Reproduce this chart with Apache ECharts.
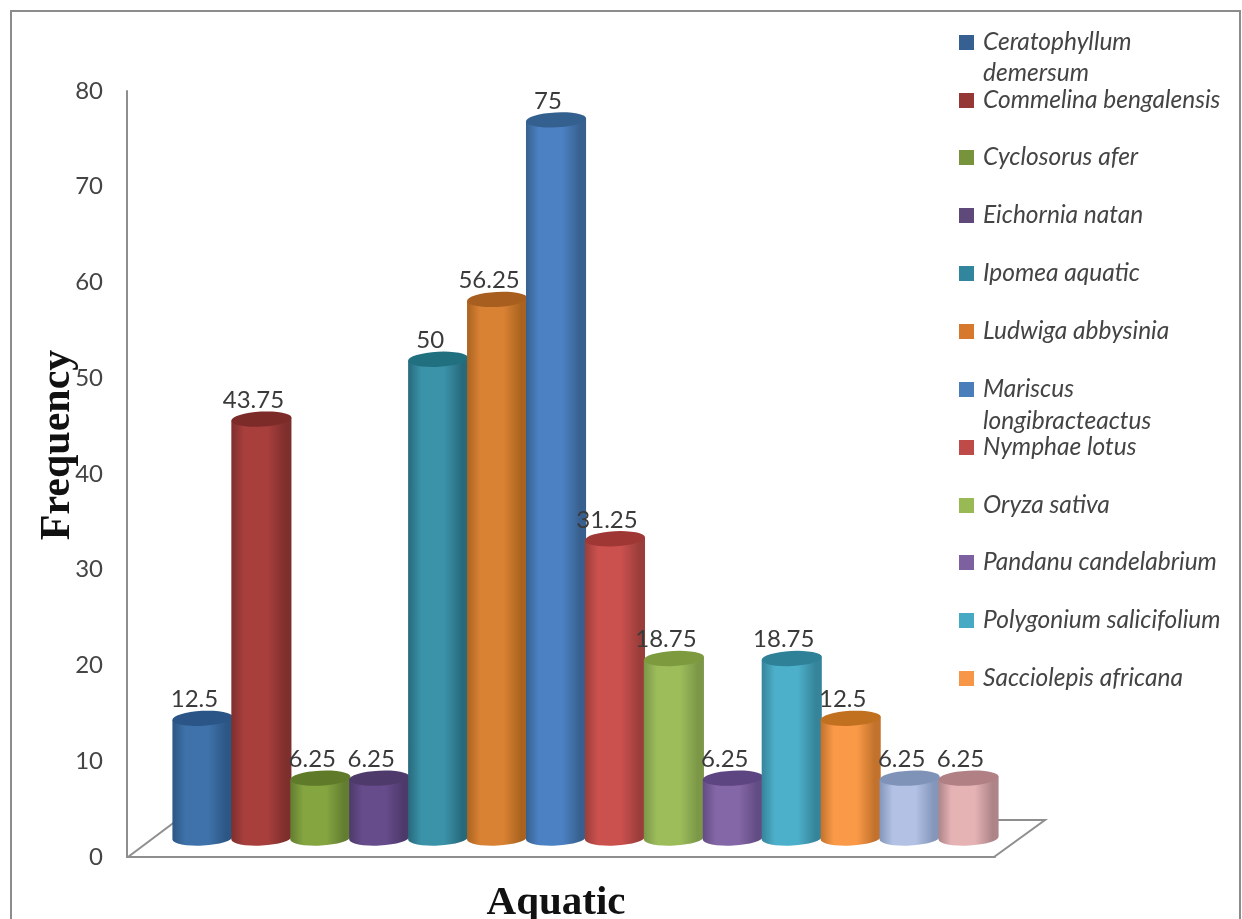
<!DOCTYPE html>
<html><head><meta charset="utf-8">
<style>html,body{margin:0;padding:0;background:#fff;overflow:hidden}#c{width:1242px;height:919px}</style>
<script src="https://cdn.jsdelivr.net/npm/echarts@6/dist/echarts.min.js"></script>
</head><body><div id="c"></div>
<script>
const species = ['Ceratophyllum demersum','Commelina bengalensis','Cyclosorus afer','Eichornia natan','Ipomea aquatic','Ludwiga abbysinia','Mariscus longibracteactus','Nymphae lotus','Oryza sativa','Pandanu candelabrium','Polygonium salicifolium','Sacciolepis africana','Unnamed 13','Unnamed 14'];
const frequency = [12.5,43.75,6.25,6.25,50,56.25,75,31.25,18.75,6.25,18.75,12.5,6.25,6.25];
const legendColors = ['#376092','#953735','#77933c','#5f497a','#31859c','#d7792c','#4a7ebb','#be4b48','#98b954','#7d60a0','#46aac5','#f79646','#b0bfe2','#e3b0b2'];
const midColors = ['#3f72aa','#a83f3d','#84a540','#674c8c','#3b93a9','#da8234','#4c82c4','#cb514e','#9dbd5b','#8467a6','#4db0ca','#fa9a48','#b2c1e4','#e6b3b5'];
const edgeColors = ['#2c5684','#7e2f2d','#637d31','#4d3a6b','#27697c','#a9631f','#38608f','#9b3e3b','#7b9747','#634c84','#35849a','#c2722c','#8496ba','#ad8488'];
const topColors = ['#2a5586','#7d2b29','#5f7a29','#4f3a6c','#21707f','#a85e1f','#34608f','#9f3835','#7d9a3f','#5c4580','#2f8198','#c0701e','#7f93b8','#b08084'];
const yTicks = {min:0,max:80,interval:10};
const legendFirstLine = {'Ceratophyllum demersum':'Ceratophyllum','Mariscus longibracteactus':'Mariscus'};
const legendTop = [42,100,157,215,273,331,389,447,505,562,620,678];

const LABEL_FONT = 'Lato, "Open Sans", sans-serif';

function renderCyl(idx){
  return function(params, api){
    const x = api.value(0), v = api.value(1);
    const top = api.coord([x, v]), base = api.coord([x, 0]);
    const w = api.size([1,0])[0]*1.02, rx = w/2, ry = 7.5, tilt = 3;
    const cx = top[0], l = cx-rx, r = cx+rx, d = 1.6;
    const body = `M${l} ${top[1]+d} L${l} ${base[1]+d} A${rx} ${ry} ${-tilt} 0 0 ${r} ${base[1]-d} L${r} ${top[1]-d} Z`;
    const cap = `M${l} ${top[1]+d} A${rx} ${ry} ${-tilt} 0 1 ${r} ${top[1]-d} A${rx} ${ry} ${-tilt} 0 1 ${l} ${top[1]+d} Z`;
    return {type:'group',children:[
      {type:'path',shape:{pathData:body},style:{fill:new echarts.graphic.LinearGradient(0,0,1,0,[
        {offset:0,color:edgeColors[idx]},{offset:0.22,color:midColors[idx]},{offset:0.6,color:midColors[idx]},{offset:0.9,color:edgeColors[idx]},{offset:1,color:edgeColors[idx]}])}},
      {type:'path',shape:{pathData:cap},style:{fill:topColors[idx]}},
      {type:'text',style:{text:String(v),x:cx-8,y:top[1]-19,align:'center',verticalAlign:'middle',fill:'#3a3a3a',font:'24px '+LABEL_FONT}}
    ]};
  };
}

const series = species.map((n,i)=>({
  type:'custom',name:n,xAxisIndex:1,yAxisIndex:1,clip:false,
  coordinateSystem:'cartesian2d',
  itemStyle:{color:legendColors[i]},
  data:[[species[i],frequency[i]]],
  encode:{x:0,y:1},
  renderItem:renderCyl(i),
  silent:true
}));

const legends = legendTop.map((t,i)=>({
  show:true,data:[species[i]],left:959,top:t-12,orient:'vertical',
  itemWidth:15,itemHeight:15,selectedMode:false,padding:0,
  icon:'rect',
  formatter:n=>legendFirstLine[n]||n,
  textStyle:{fontFamily:LABEL_FONT,fontStyle:'italic',fontSize:24.5,color:'#444',padding:[0,0,0,4],height:24,lineHeight:24}
}));

const chart = echarts.init(document.getElementById('c'),null,{renderer:'canvas'});
const axisGray = '#8e8e8e';
chart.setOption({
  animation:false,
  backgroundColor:'#fff',
  grid:[
    {left:127,top:91,width:868,height:766,outerBoundsMode:'none'},
    {left:173,top:72,width:825,height:766,outerBoundsMode:'none'}
  ],
  xAxis:[
    {gridIndex:0,type:'category',data:[''],name:'Aquatic',nameLocation:'middle',nameGap:26,
     nameTextStyle:{fontFamily:'"Liberation Serif",serif',fontWeight:'bold',fontSize:41,color:'#111',padding:[0,10,0,0]},
     axisLine:{lineStyle:{color:axisGray,width:2}},axisTick:{show:false},axisLabel:{show:false}},
    {gridIndex:1,type:'category',data:species,show:false}
  ],
  yAxis:[
    {gridIndex:0,type:'value',min:yTicks.min,max:yTicks.max,interval:yTicks.interval,
     name:'Frequency',nameLocation:'middle',nameGap:48,nameRotate:90,nameMoveOverlap:false,
     nameTextStyle:{fontFamily:'"Liberation Serif",serif',fontWeight:'bold',fontSize:42,color:'#111',padding:[0,0,0,58]},
     axisLine:{show:true,lineStyle:{color:axisGray,width:2}},axisTick:{show:false},
     splitLine:{show:false},
     axisLabel:{margin:24,fontFamily:LABEL_FONT,fontSize:24,color:'#444'}},
    {gridIndex:1,type:'value',min:yTicks.min,max:yTicks.max,interval:yTicks.interval,show:false,splitLine:{show:false}}
  ],
  legend:legends,
  graphic:{elements:[
    {type:'rect',z:-1,shape:{x:11,y:11,width:1229,height:930},style:{fill:'#fff',stroke:'#8c8c8c',lineWidth:2},silent:true},
    {type:'polyline',z:-1,shape:{points:[[128,857],[176,821]]},style:{stroke:axisGray,lineWidth:2,fill:null},silent:true},
    {type:'polyline',z:-1,shape:{points:[[994,857],[1045,820],[990,820]]},style:{stroke:axisGray,lineWidth:2,fill:null},silent:true},
    {type:'text',z:5,style:{text:'demersum',x:983,y:73,verticalAlign:'middle',fill:'#444',font:'italic 24.5px '+LABEL_FONT},silent:true},
    {type:'text',z:5,style:{text:'longibracteactus',x:983,y:421,verticalAlign:'middle',fill:'#444',font:'italic 24.5px '+LABEL_FONT},silent:true}
  ]},
  series:series
});
</script></body></html>
